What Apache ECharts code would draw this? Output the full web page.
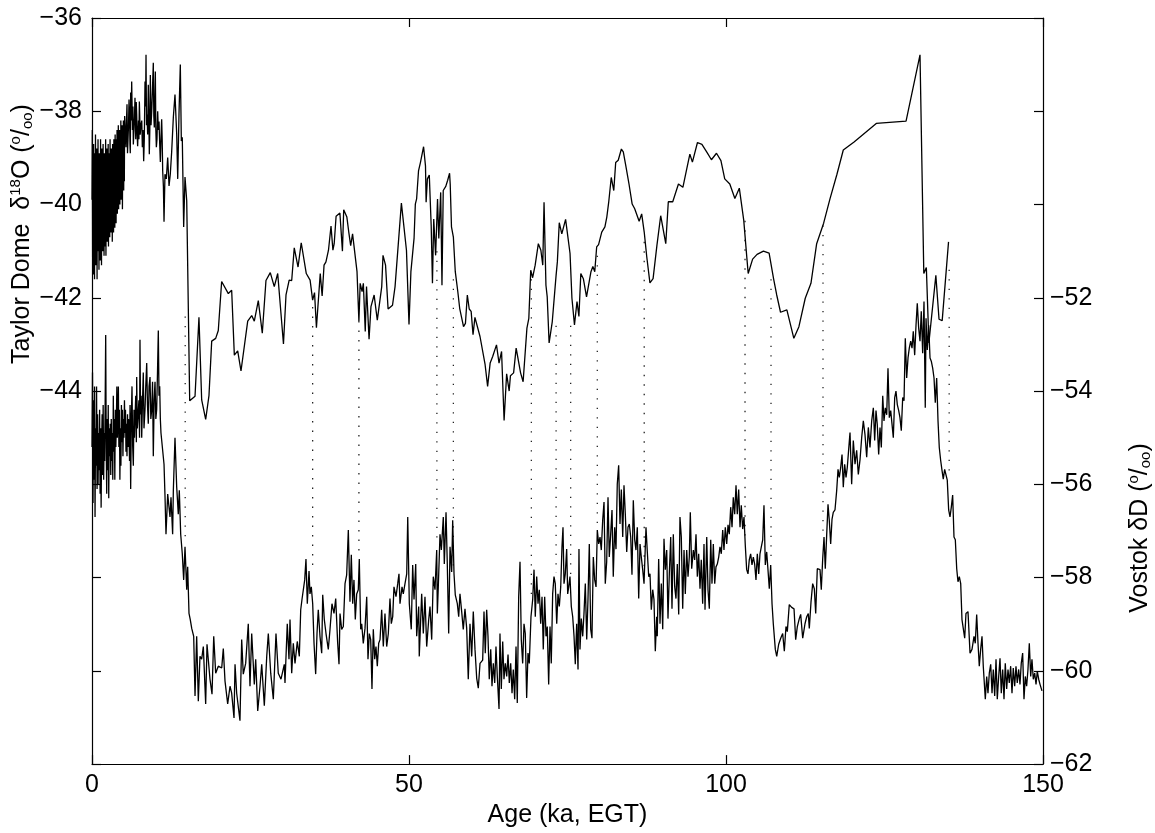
<!DOCTYPE html>
<html><head><meta charset="utf-8">
<script src="https://cdn.jsdelivr.net/npm/echarts@6/dist/echarts.min.js"></script>
<style>html,body{margin:0;padding:0;background:#fff}#c{width:1155px;height:833px}</style>
</head><body><div id="c"></div>
<script>
// ---------- axes ----------
const xRange = [0, 150];
const xTicks = [0, 50, 100, 150];
const leftRange = [-52, -36];    // Taylor Dome d18O
const rightRange = [-62, -46];   // Vostok dD
const leftLabelled = [-44, -36];
const rightLabelled = [-62, -52];

// ---------- Taylor Dome d18O (age ka, permil) ----------
const taylorDome = [
[0.00,-39.9],[0.05,-38.4],[0.10,-41.2],[0.15,-39.0],[0.20,-41.5],[0.25,-38.7],[0.30,-40.6],[0.35,-39.3],[0.40,-41.6],[0.45,-38.9],
[0.50,-40.9],[0.55,-38.5],[0.60,-41.3],[0.65,-39.6],[0.70,-40.2],[0.75,-38.8],[0.80,-41.6],[0.85,-39.1],[0.90,-40.7],[0.95,-38.6],
[1.00,-41.0],[1.05,-39.4],[1.10,-41.4],[1.15,-38.9],[1.20,-40.5],[1.25,-39.0],[1.30,-41.2],[1.35,-38.6],[1.40,-40.8],[1.45,-39.7],
[1.50,-41.3],[1.55,-38.8],[1.60,-40.3],[1.65,-39.2],[1.70,-41.0],[1.75,-38.7],[1.80,-40.6],[1.85,-39.3],[1.90,-41.1],[1.95,-38.9],
[2.00,-40.4],[2.05,-39.1],[2.10,-40.9],[2.15,-38.6],[2.20,-41.1],[2.25,-39.5],[2.30,-40.2],[2.35,-38.8],[2.40,-40.8],[2.45,-39.0],
[2.50,-40.5],[2.55,-38.7],[2.60,-40.9],[2.65,-39.3],[2.70,-40.1],[2.75,-38.9],[2.80,-40.7],[2.85,-38.6],[2.90,-40.4],[2.95,-39.2],
[3.00,-40.6],[3.05,-38.8],[3.10,-40.0],[3.15,-39.4],[3.20,-40.8],[3.25,-38.7],[3.30,-40.3],[3.35,-39.0],[3.40,-40.6],[3.45,-38.6],
[3.50,-40.1],[3.55,-39.1],[3.60,-40.5],[3.65,-38.5],[3.70,-40.0],[3.75,-38.9],[3.80,-40.4],[3.85,-38.6],[3.90,-39.8],[3.95,-38.4],
[4.00,-40.2],[4.05,-38.8],[4.10,-39.7],[4.15,-38.3],[4.20,-40.1],[4.25,-38.7],[4.30,-39.6],[4.35,-38.4],[4.40,-40.0],[4.45,-38.6],
[4.50,-39.5],[4.55,-38.2],[4.60,-39.9],[4.65,-38.5],[4.70,-39.4],[4.75,-38.3],[4.80,-40.1],[4.85,-38.6],[4.90,-39.3],[4.95,-38.2],
[5.00,-39.7],[5.05,-38.4],[5.10,-39.5],[5.15,-38.1],[5.20,-38.1],[5.28,-38.5],[5.36,-38.77],[5.44,-38.2],[5.52,-37.85],[5.60,-38.9],
[5.68,-38.6],[5.76,-38.3],[5.84,-37.75],[5.92,-38.1],[5.99,-38.71],[6.04,-38.9],[6.10,-37.6],[6.18,-38.2],[6.26,-37.36],[6.38,-38.4],
[6.45,-37.9],[6.52,-38.71],[6.62,-38.4],[6.70,-38.1],[6.78,-37.71],[6.90,-38.6],[6.98,-37.8],[7.05,-38.07],[7.12,-38.5],[7.20,-38.75],
[7.33,-38.2],[7.40,-38.6],[7.47,-37.79],[7.60,-38.5],[7.73,-38.28],[7.85,-38.2],[7.94,-38.77],[8.05,-38.4],[8.15,-39.07],[8.25,-38.6],
[8.36,-37.36],[8.45,-37.9],[8.52,-36.79],[8.60,-38.3],[8.68,-38.07],[8.78,-38.5],[8.88,-37.43],[8.96,-38.1],[9.04,-38.92],[9.12,-38.4],
[9.20,-37.22],[9.31,-38.3],[9.42,-38.0],[9.52,-37.6],[9.67,-36.96],[9.75,-38.1],[9.83,-38.35],[9.90,-37.9],[9.99,-37.15],[10.07,-38.4],
[10.15,-38.77],[10.25,-38.6],[10.36,-38.0],[10.46,-38.4],[10.57,-38.22],[10.68,-38.7],[10.78,-39.09],[10.90,-38.5],[10.99,-38.17],[11.07,-38.6],
[11.15,-39.28],[11.26,-39.6],[11.36,-40.37],[11.51,-39.35],[11.72,-39.45],[11.94,-38.99],[12.15,-39.6],[12.35,-39.35],[12.57,-38.86],[12.83,-38.13],
[13.09,-37.64],[13.36,-38.49],[13.52,-39.45],[13.72,-38.07],[13.93,-37.0],[14.09,-38.64],[14.24,-38.56],[14.46,-40.48],[14.67,-39.41],[14.94,-39.92],
[15.14,-39.92],[15.41,-44.21],[16.25,-44.11],[16.87,-42.42],[17.30,-44.19],[17.93,-44.61],[18.45,-44.10],[18.88,-42.93],[19.51,-42.87],[19.92,-42.70],
[20.45,-41.65],[21.50,-41.91],[22.03,-41.84],[22.45,-43.23],[22.98,-43.14],[23.50,-43.57],[24.56,-42.50],[25.19,-42.38],[25.60,-42.50],[26.23,-42.06],
[26.86,-42.76],[27.44,-41.63],[28.12,-41.46],[28.75,-41.76],[29.29,-41.48],[30.2,-42.99],[30.6,-41.94],[31.1,-41.62],[31.5,-41.63],[31.9,-40.93],
[32.5,-41.34],[33.0,-40.82],[33.8,-41.48],[34.4,-41.62],[34.8,-42.05],[35.1,-41.89],[35.4,-42.64],[36.0,-41.48],[36.3,-41.96],[36.6,-41.30],
[36.9,-41.23],[37.3,-40.98],[37.5,-40.98],[37.7,-40.46],[38.0,-40.98],[38.2,-40.84],[38.5,-40.25],[38.8,-40.27],[39.1,-40.18],[39.5,-41.0],
[39.7,-40.11],[40.2,-40.27],[40.5,-40.59],[40.8,-40.88],[41.1,-40.63],[41.4,-40.61],[41.8,-41.44],[42.1,-42.50],[42.3,-41.69],[42.6,-41.87],
[42.8,-41.69],[43.1,-42.72],[43.3,-41.76],[43.7,-42.89],[44.0,-42.19],[44.5,-41.94],[45.0,-42.48],[45.7,-41.76],[45.9,-41.09],[46.3,-41.30],
[46.7,-42.24],[47.4,-42.16],[47.8,-41.76],[48.0,-41.80],[48.8,-39.97],[49.6,-40.98],[50.0,-42.57],[50.3,-41.44],[50.8,-40.72],[51.0,-39.99],
[51.2,-39.88],[51.5,-39.28],[51.8,-39.10],[52.3,-38.76],[52.6,-39.17],[52.7,-39.95],[52.9,-39.45],[53.2,-39.37],[53.5,-40.45],[53.7,-41.69],
[53.9,-40.31],[54.2,-41.09],[54.5,-39.88],[54.7,-40.73],[55.0,-39.74],[55.2,-41.73],[55.4,-39.70],[55.8,-39.61],[56.1,-39.48],[56.4,-39.33],
[56.5,-39.56],[56.7,-40.48],[57.0,-40.70],[57.3,-41.44],[57.7,-41.87],[58.0,-42.23],[58.3,-42.26],[58.6,-42.62],[58.9,-42.55],[59.2,-41.94],
[59.5,-42.24],[59.8,-42.29],[60.1,-42.79],[60.4,-42.42],[60.7,-42.45],[61.2,-42.83],[61.5,-42.80],[62.0,-43.43],[62.4,-43.90],[62.8,-43.40],
[63.2,-43.26],[63.8,-43.01],[64.2,-43.40],[64.6,-43.15],[65.0,-44.63],[65.4,-43.63],[65.8,-44.0],[66.0,-43.67],[66.5,-43.61],[66.9,-43.08],
[67.2,-43.10],[67.6,-43.61],[68.0,-43.80],[68.6,-42.65],[68.9,-42.44],[69.2,-41.41],[69.5,-41.57],[69.9,-41.30],[70.4,-40.84],[70.8,-40.98],
[71.1,-41.30],[71.3,-39.95],[71.6,-41.73],[71.8,-41.98],[72.1,-42.97],[72.6,-42.51],[73.2,-41.52],[73.4,-41.23],[73.7,-40.39],[74.1,-40.63],
[74.7,-40.32],[75.4,-41.05],[75.7,-42.01],[76.1,-42.58],[76.5,-42.08],[76.8,-42.40],[77.1,-41.48],[77.5,-41.59],[78.0,-41.98],[78.7,-41.44],
[79.0,-41.33],[79.3,-41.44],[79.6,-40.91],[79.9,-40.86],[80.4,-40.59],[80.9,-40.48],[81.2,-40.27],[81.5,-39.95],[81.9,-39.42],[82.3,-39.70],
[82.6,-39.10],[83.0,-39.05],[83.5,-38.81],[83.8,-38.87],[84.2,-39.17],[84.7,-39.56],[85.2,-39.99],[85.6,-40.09],[86.3,-40.36],[86.7,-40.20],
[87.1,-40.59],[87.5,-41.12],[88.0,-41.68],[88.5,-41.59],[89.1,-40.88],[89.7,-40.24],[90.5,-40.84],[90.9,-39.94],[91.6,-39.94],[92.5,-39.56],
[93.2,-39.63],[93.8,-39.24],[94.3,-38.92],[94.7,-39.09],[95.5,-38.67],[96.2,-38.71],[97.0,-38.88],[97.7,-39.04],[98.5,-38.90],[99.2,-39.06],
[99.8,-39.45],[100.6,-39.56],[101.4,-39.87],[102.1,-39.65],[102.8,-40.34],[103.3,-41.16],[103.5,-41.48],[104.2,-41.17],[104.9,-41.07],[105.9,-41.00],
[106.8,-41.04],[107.5,-41.59],[108.0,-41.94],[108.6,-42.31],[109.6,-42.26],[110.7,-42.87],[111.5,-42.62],[112.5,-42.01],[113.4,-41.69],[114.3,-40.84],
[115.4,-40.40],[116.4,-39.88],[117.5,-39.35],[118.5,-38.83],[120.2,-38.66],[123.7,-38.26],[128.4,-38.21],[130.6,-36.79],[131.2,-41.48],[131.6,-41.35],
[132.0,-42.97],[133.1,-41.52],[133.6,-42.46],[134.1,-42.49],[135.1,-40.80]
];

// ---------- Vostok dD (age ka, permil, right axis) ----------
const vostok = [
[0.00,-55.2],[0.08,-53.6],[0.16,-56.4],[0.24,-54.2],[0.32,-55.9],[0.40,-53.9],[0.48,-56.7],[0.56,-54.8],[0.64,-55.6],[0.72,-53.9],
[0.80,-56.1],[0.88,-54.5],[0.96,-56.0],[1.04,-54.9],[1.12,-55.7],[1.20,-54.4],[1.28,-56.2],[1.36,-54.8],[1.44,-56.5],[1.52,-55.1],
[1.60,-54.5],[1.68,-55.8],[1.76,-54.3],[1.84,-55.9],[1.92,-54.9],[2.00,-55.5],[2.08,-54.2],[2.16,-52.8],[2.24,-55.1],[2.32,-56.2],
[2.40,-54.6],[2.48,-55.7],[2.56,-54.3],[2.64,-56.3],[2.72,-54.8],[2.80,-55.4],[2.88,-54.7],[2.96,-55.8],[3.04,-54.6],[3.12,-55.5],
[3.20,-54.9],[3.28,-55.9],[3.36,-54.1],[3.44,-55.3],[3.52,-54.6],[3.60,-55.9],[3.68,-54.4],[3.76,-55.2],[3.84,-54.7],[3.92,-53.9],
[4.00,-55.0],[4.08,-54.5],[4.16,-53.9],[4.24,-55.2],[4.32,-54.4],[4.40,-55.9],[4.48,-54.8],[4.56,-55.6],[4.64,-54.3],[4.72,-55.1],
[4.80,-54.4],[4.88,-55.4],[4.96,-54.6],[5.04,-55.0],[5.12,-54.2],[5.20,-54.9],[5.28,-54.4],[5.36,-55.3],[5.44,-54.7],[5.52,-55.4],
[5.60,-54.5],[5.68,-55.2],[5.76,-54.6],[5.84,-54.9],[5.92,-55.5],[6.00,-54.3],[6.10,-56.1],[6.20,-54.6],[6.31,-53.9],[6.42,-55.2],
[6.52,-55.6],[6.62,-54.4],[6.70,-55.0],[6.78,-54.6],[6.90,-54.1],[7.00,-55.1],[7.05,-53.7],[7.15,-54.8],[7.30,-54.8],[7.40,-54.2],
[7.50,-55.0],[7.57,-52.9],[7.66,-54.5],[7.75,-54.1],[7.84,-55.0],[7.95,-54.3],[8.09,-53.6],[8.20,-54.8],[8.36,-54.4],[8.48,-53.9],
[8.63,-53.4],[8.75,-54.3],[8.88,-54.7],[9.00,-53.9],[9.15,-53.7],[9.28,-54.6],[9.42,-54.4],[9.55,-53.8],[9.67,-55.4],[9.80,-54.2],
[9.94,-53.8],[10.07,-54.6],[10.2,-54.4],[10.33,-53.6],[10.46,-52.7],[10.57,-54.1],[10.68,-53.9],[10.78,-54.6],[10.88,-54.9],[10.99,-54.93],
[11.36,-55.57],
[11.51,-56.23],[11.67,-57.07],[11.94,-56.21],[12.3,-56.7],[12.46,-56.28],[12.72,-57.07],[12.83,-56.13],[13.09,-55.0],[13.36,-56.06],[13.61,-56.64],
[13.77,-56.13],[13.99,-57.07],[14.24,-57.49],[14.46,-58.05],[14.67,-57.34],[14.94,-58.26],[15.09,-57.77],[15.3,-58.77],[15.5,-58.9],[15.73,-59.09],
[16.04,-59.26],[16.25,-60.54],[16.51,-59.26],[16.77,-60.65],[17.03,-59.69],[17.3,-59.75],[17.56,-59.48],[17.93,-60.71],[18.14,-59.43],[18.35,-59.41],
[18.61,-60.18],[18.93,-60.5],[19.2,-59.26],[19.51,-60.05],[19.92,-59.9],[20.46,-59.94],[20.71,-59.52],[20.98,-60.22],[21.4,-60.71],[21.77,-60.33],
[22.03,-60.48],[22.4,-61.01],[22.56,-59.86],[22.82,-60.48],[23.34,-61.07],[23.61,-59.33],[23.86,-60.07],[24.24,-59.84],[24.65,-58.99],[24.92,-60.33],
[25.19,-59.2],[25.6,-60.29],[25.82,-59.75],[26.14,-60.86],[26.5,-60.33],[26.77,-59.86],[27.18,-60.75],[27.56,-59.69],[27.81,-59.2],[28.19,-60.05],
[28.6,-60.61],[29.02,-59.2],[29.38,-60.05],[29.81,-60.18],[30.33,-59.86],[30.44,-60.26],[30.8,-58.99],[31.07,-59.75],[31.23,-58.9],[31.5,-60.05],
[31.75,-59.41],[32.02,-59.84],[32.38,-59.37],[32.7,-59.69],[32.92,-58.69],[33.12,-58.47],[33.33,-58.45],[33.55,-58.05],[33.75,-57.6],[33.96,-58.56],
[34.23,-57.86],[34.38,-58.35],[34.59,-58.2],[34.81,-58.56],[35.02,-59.41],[35.28,-60.07],[35.49,-59.2],[35.69,-58.69],[35.96,-59.26],[36.23,-59.62],
[36.39,-58.37],[36.64,-58.9],[36.91,-59.2],[37.27,-59.54],[37.54,-59.11],[37.85,-58.56],[38.17,-58.77],[38.44,-58.45],[38.75,-59.41],[38.96,-59.86],
[39.12,-58.77],[39.38,-59.11],[39.64,-59.05],[39.91,-58.13],[40.17,-57.94],[40.43,-56.98],[40.69,-58.52],[40.9,-57.51],[41.12,-58.56],[41.32,-58.05],
[41.53,-58.9],[41.75,-58.35],[42.0,-58.26],[42.16,-57.6],[42.38,-59.11],[42.54,-58.99],[42.79,-59.41],[43.06,-59.09],[43.33,-58.41],[43.53,-59.75],
[43.74,-59.2],[43.96,-59.33],[44.16,-60.39],[44.37,-59.11],[44.59,-59.75],[44.79,-59.48],[45.0,-59.9],[45.22,-59.41],[45.43,-59.33],[45.69,-58.69],
[45.95,-59.48],[46.21,-58.77],[46.48,-59.48],[46.74,-59.2],[47.0,-58.45],[47.21,-58.99],[47.43,-58.84],[47.63,-58.2],[47.95,-58.41],[48.22,-58.13],
[48.42,-57.92],[48.58,-58.56],[48.9,-58.2],[49.1,-58.35],[49.37,-58.13],[49.64,-57.92],[49.8,-56.7],[50.05,-58.56],[50.36,-59.11],[50.58,-57.73],
[50.79,-58.47],[51.06,-57.71],[51.21,-59.26],[51.53,-58.62],[51.62,-59.69],[52.0,-58.35],[52.26,-59.2],[52.52,-58.41],[52.79,-59.48],[53.11,-58.9],
[53.31,-58.62],[53.58,-59.33],[53.83,-57.98],[54.1,-58.26],[54.37,-57.41],[54.47,-58.77],[54.62,-58.2],[54.89,-57.07],[55.1,-57.41],[55.41,-56.7],
[55.57,-57.71],[55.84,-56.6],[56.04,-57.71],[56.26,-59.2],[56.47,-57.34],[56.73,-57.88],[56.89,-56.77],[57.1,-57.92],[57.3,-58.37],[57.62,-58.56],
[57.84,-58.84],[58.04,-58.35],[58.31,-58.73],[58.56,-59.11],[58.83,-58.67],[59.1,-59.09],[59.35,-60.18],[59.62,-58.99],[59.89,-59.69],[60.14,-58.73],
[60.41,-59.54],[60.68,-60.16],[60.93,-60.37],[61.2,-59.84],[61.62,-59.77],[61.83,-58.73],[62.03,-59.62],[62.25,-58.69],[62.46,-59.26],[62.66,-60.18],
[62.89,-59.54],[63.09,-60.33],[63.3,-59.84],[63.52,-60.26],[63.72,-59.48],[63.93,-60.12],[64.2,-60.82],[64.35,-59.2],[64.56,-60.39],[64.78,-59.37],
[64.98,-60.18],[65.19,-59.84],[65.41,-60.12],[65.62,-59.65],[65.82,-60.26],[66.04,-59.84],[66.25,-60.48],[66.45,-59.97],[66.67,-60.61],[66.88,-59.48],
[67.08,-60.69],[67.3,-58.41],[67.51,-57.66],[67.71,-59.33],[67.93,-59.84],[68.14,-58.99],[68.34,-59.2],[68.56,-60.58],[68.77,-59.62],[68.97,-59.84],
[69.24,-58.84],[69.51,-58.47],[69.72,-57.83],[69.92,-58.84],[70.14,-57.98],[70.35,-58.56],[70.55,-58.26],[70.77,-58.99],[70.98,-58.41],[71.18,-59.54],
[71.4,-58.41],[71.61,-59.26],[71.81,-59.05],[72.03,-60.29],[72.24,-59.05],[72.44,-59.84],[72.66,-58.35],[72.87,-57.98],[73.07,-58.13],[73.3,-58.99],
[73.5,-58.35],[73.71,-58.62],[73.93,-58.2],[74.13,-57.34],[74.29,-56.92],[74.45,-58.13],[74.65,-57.92],[74.87,-57.39],[75.03,-58.35],[75.19,-58.2],
[75.39,-57.98],[75.6,-58.62],[75.82,-58.84],[76.03,-59.26],[76.23,-59.86],[76.45,-58.99],[76.66,-59.97],[76.81,-57.39],[76.97,-59.54],[77.18,-58.88],
[77.4,-59.26],[77.6,-58.77],[77.81,-58.13],[78.03,-59.33],[78.23,-58.47],[78.44,-57.28],[78.66,-59.11],[78.86,-59.3],[79.07,-57.56],[79.29,-58.05],
[79.5,-58.2],[79.7,-56.98],[79.92,-57.28],[80.13,-57.13],[80.33,-57.41],[80.55,-56.77],[80.76,-56.38],[80.96,-58.13],[81.18,-57.66],[81.39,-56.28],
[81.59,-57.56],[81.81,-57.07],[82.02,-56.55],[82.22,-57.98],[82.44,-56.92],[82.65,-57.39],[82.85,-56.0],[83.07,-55.59],[83.28,-56.85],[83.49,-56.11],
[83.71,-57.13],[83.91,-56.02],[84.12,-56.64],[84.34,-57.45],[84.54,-56.92],[84.75,-56.85],[84.97,-57.13],[85.17,-57.94],[85.38,-56.34],[85.6,-57.19],
[85.8,-57.41],[86.01,-56.92],[86.23,-58.45],[86.44,-57.28],[86.64,-57.56],[86.86,-57.83],[87.07,-58.13],[87.27,-58.13],[87.38,-56.92],[87.59,-57.45],
[87.81,-57.98],[88.01,-57.92],[88.22,-58.69],[88.44,-58.26],[88.64,-58.47],[88.85,-59.58],[89.07,-58.84],[89.16,-59.26],[89.38,-57.6],[89.59,-58.99],
[89.8,-58.13],[90.02,-59.11],[90.22,-57.17],[90.43,-57.83],[90.65,-57.41],[90.85,-58.88],[91.06,-57.92],[91.28,-57.13],[91.48,-58.67],[91.69,-57.07],
[91.91,-58.2],[92.11,-58.45],[92.32,-57.71],[92.54,-58.79],[92.74,-56.7],[92.95,-57.13],[93.17,-58.67],[93.38,-57.41],[93.58,-58.35],[93.8,-57.41],
[94.01,-57.98],[94.21,-57.56],[94.37,-56.6],[94.59,-57.81],[94.85,-57.41],[95.06,-57.62],[95.27,-57.07],[95.48,-57.98],[95.69,-57.49],[95.9,-58.24],
[96.1,-57.62],[96.32,-58.56],[96.53,-57.28],[96.69,-58.69],[96.96,-57.13],[97.16,-58.26],[97.37,-58.67],[97.59,-57.19],[97.79,-58.13],[98.0,-57.28],
[98.22,-58.13],[98.42,-57.77],[98.63,-57.71],[98.85,-57.56],[99.05,-57.34],[99.26,-57.49],[99.48,-56.98],[99.68,-57.41],[99.89,-56.92],[100.11,-57.28],
[100.32,-56.87],[100.52,-57.07],[100.74,-56.49],[100.95,-56.92],[101.15,-56.28],[101.37,-56.64],[101.58,-56.02],[101.78,-56.64],[102.0,-56.11],[102.21,-56.92],
[102.41,-56.45],[102.63,-56.96],[102.84,-56.7],[103.04,-57.3],[103.26,-57.83],[103.47,-57.92],[103.67,-57.62],[103.89,-57.49],[104.1,-57.73],[104.31,-57.56],
[104.52,-57.71],[104.73,-58.05],[104.94,-57.49],[105.16,-57.92],[105.36,-57.49],[105.57,-57.34],[105.79,-57.19],[105.99,-56.45],[106.2,-57.73],[106.42,-57.45],
[106.62,-57.83],[106.83,-58.24],[107.05,-57.73],[107.26,-58.56],[107.46,-58.99],[107.78,-59.54],[108.0,-59.69],[108.31,-59.43],[108.63,-59.3],[108.94,-59.2],
[109.2,-59.58],[109.46,-59.05],[109.67,-59.16],[109.98,-58.58],[110.36,-58.64],[110.73,-58.67],[110.99,-59.33],[111.25,-59.05],[111.56,-58.88],[111.78,-58.79],
[112.1,-59.3],[112.46,-58.99],[112.73,-58.84],[112.98,-58.77],[113.14,-59.09],[113.41,-58.52],[113.67,-58.13],[113.93,-58.24],[114.15,-58.77],[114.4,-57.81],
[114.67,-57.77],[114.83,-57.83],[115.03,-58.26],[115.25,-57.6],[115.46,-57.13],[115.66,-57.81],[115.88,-57.09],[116.09,-56.43],[116.29,-56.77],[116.51,-57.28],
[116.72,-56.75],[116.92,-56.6],[117.19,-56.55],[117.46,-56.13],[117.67,-55.68],[117.87,-55.85],[118.09,-55.64],[118.3,-55.36],[118.5,-56.06],[118.72,-55.57],
[118.93,-55.85],[119.13,-55.64],[119.35,-55.25],[119.56,-54.89],[119.82,-56.0],[120.08,-55.06],[120.35,-55.57],[120.61,-55.27],[120.87,-55.79],[121.14,-55.47],
[121.4,-55.0],[121.66,-54.64],[121.92,-54.93],[122.19,-55.42],[122.45,-54.78],[122.71,-55.21],[122.98,-54.64],[123.24,-54.36],[123.45,-55.06],[123.66,-54.42],
[123.86,-54.72],[124.08,-55.36],[124.29,-54.78],[124.5,-55.21],[124.72,-54.1],[124.92,-54.64],[125.13,-54.36],[125.35,-54.51],[125.55,-53.51],[125.76,-54.57],
[125.98,-54.42],[126.18,-54.4],[126.39,-55.0],[126.61,-54.14],[126.81,-54.0],[127.02,-54.29],[127.24,-54.42],[127.44,-54.57],[127.65,-54.85],[127.87,-54.14],
[128.08,-54.21],[128.28,-52.87],[128.5,-53.72],[128.71,-53.29],[128.91,-53.08],[129.13,-52.93],[129.34,-53.08],[129.54,-52.72],[129.76,-53.23],[129.97,-52.59],
[130.17,-52.12],[130.39,-52.65],[130.6,-52.93],[130.8,-52.29],[131.02,-53.19],[131.23,-52.08],[131.43,-54.36],[131.55,-52.44],[131.75,-53.12],[131.97,-52.59],
[132.18,-53.29],[132.38,-53.36],[132.6,-53.51],[132.81,-53.72],[133.01,-54.25],[133.23,-53.72],[133.44,-54.64],[133.64,-55.21],[133.86,-55.49],[134.07,-55.7],
[134.27,-55.89],[134.49,-55.68],[134.7,-55.7],[134.9,-55.91],[135.12,-56.55],[135.33,-56.7],[135.54,-56.49],[135.75,-56.23],[135.96,-57.13],[136.17,-57.19],
[136.39,-57.81],[136.59,-58.09],[136.8,-57.98],[137.02,-58.13],[137.22,-58.9],[137.43,-58.9],[137.65,-59.3],[137.85,-58.77],[138.17,-58.73],[138.49,-59.62],
[138.8,-59.54],[139.12,-59.26],[139.32,-59.41],[139.54,-58.79],[139.75,-59.41],[139.95,-59.9],[140.17,-59.54],[140.38,-59.26],[140.58,-59.9],[140.9,-60.61],
[141.12,-60.12],[141.32,-60.48],[141.53,-60.05],[141.75,-59.86],[141.96,-60.48],[142.16,-59.97],[142.38,-60.54],[142.59,-59.75],[142.79,-60.61],[143.01,-60.12],
[143.22,-59.73],[143.42,-60.48],[143.64,-59.97],[143.85,-60.61],[144.05,-59.84],[144.27,-60.39],[144.48,-59.97],[144.68,-60.26],[144.9,-59.9],[145.11,-60.48],
[145.31,-59.94],[145.53,-60.33],[145.74,-59.9],[145.94,-60.26],[146.16,-59.97],[146.37,-60.29],[146.57,-59.84],[146.79,-59.62],[147.0,-60.61],[147.21,-60.12],
[147.42,-60.33],[147.63,-59.97],[147.84,-59.41],[148.06,-60.12],[148.26,-59.75],[148.47,-60.18],[148.69,-60.05],[148.9,-60.29],[149.1,-60.01],[149.32,-60.18],
[149.53,-60.29],[149.84,-60.43]
];

// ---------- tie points (dotted connectors) ----------
const tieAges    = [14.7, 34.8, 42.1, 54.4, 57.0, 69.3, 73.2, 75.5, 79.7, 87.1, 103.0, 107.1, 115.3, 135.2];
const tieTaylor  = [-42.4, -42.2, -42.5, -41.0, -41.6, -41.6, -42.6, -42.6, -41.1, -40.8, -40.35, -41.6, -40.45, -41.4];
const tieVostok  = [-57.2, -57.9, -57.5, -57.3, -57.9, -58.5, -57.9, -58.1, -57.0, -57.8, -57.1, -57.7, -57.1, -55.8];

const FONT = '"Liberation Sans", Arial, Helvetica, sans-serif';
const FS = 25;
const minus = v => String(v).replace('-', '\u2212');

// map a right-axis value onto the left axis scale (both share the same plot height)
const toLeft = v => leftRange[0] + (v - rightRange[0]) * (leftRange[1] - leftRange[0]) / (rightRange[1] - rightRange[0]);

const series = [];
tieAges.forEach((a, i) => {
  series.push({
    type: 'line', xAxisIndex: 0, yAxisIndex: 0, silent: true, symbol: 'none', z: 1,
    data: [[a, tieTaylor[i]], [a, toLeft(tieVostok[i])]],
    lineStyle: { color: '#222', width: 1.3, type: [1.3, 8.2] }
  });
});
series.push({
  name: 'Taylor Dome', type: 'line', xAxisIndex: 0, yAxisIndex: 0, data: taylorDome,
  symbol: 'none', z: 3, lineStyle: { color: '#000', width: 1.3 }
});
series.push({
  name: 'Vostok', type: 'line', xAxisIndex: 0, yAxisIndex: 1, data: vostok,
  symbol: 'none', z: 3, lineStyle: { color: '#000', width: 1.3 }
});

const axisLine = { show: true, onZero: false, lineStyle: { color: '#000', width: 1.2 } };
const tick = { show: true, inside: true, length: 9, lineStyle: { color: '#000', width: 1.2 } };
const lbl = { color: '#000', fontFamily: FONT, fontSize: FS };

const richTitle = {
  n: { fontFamily: FONT, fontSize: FS, lineHeight: 32, verticalAlign: 'middle' },
  sup: { fontFamily: FONT, fontSize: 15, lineHeight: 32, verticalAlign: 'top', padding: [2, 0, 0, 0] },
  sub: { fontFamily: FONT, fontSize: 15, lineHeight: 32, verticalAlign: 'bottom', padding: [0, 0, 3, 0] }
};

const chart = echarts.init(document.getElementById('c'), null, { renderer: 'canvas' });
chart.setOption({
  animation: false,
  backgroundColor: '#fff',
  grid: { left: 92, right: 112, top: 18, bottom: 65, containLabel: false },
  xAxis: [
    { type: 'value', position: 'bottom', min: xRange[0], max: xRange[1], interval: 50,
      axisLine, axisTick: tick, splitLine: { show: false },
      axisLabel: Object.assign({ margin: 9, formatter: v => xTicks.includes(v) ? String(v) : '' }, lbl),
      name: 'Age (ka, EGT)', nameLocation: 'middle', nameGap: 36,
      nameTextStyle: { color: '#000', fontFamily: FONT, fontSize: FS } },
    { type: 'value', position: 'top', min: xRange[0], max: xRange[1], interval: 50,
      axisLine, axisTick: tick, splitLine: { show: false }, axisLabel: { show: false } }
  ],
  yAxis: [
    { type: 'value', position: 'left', min: leftRange[0], max: leftRange[1], interval: 2,
      axisLine, axisTick: tick, splitLine: { show: false },
      axisLabel: Object.assign({ margin: 10,
        formatter: v => (v >= leftLabelled[0] && v <= leftLabelled[1]) ? minus(v) : '' }, lbl) },
    { type: 'value', position: 'right', min: rightRange[0], max: rightRange[1], interval: 2,
      axisLine, axisTick: tick, splitLine: { show: false },
      axisLabel: Object.assign({ margin: 7,
        formatter: v => (v >= rightLabelled[0] && v <= rightLabelled[1]) ? minus(v) : '' }, lbl) }
  ],
  graphic: [
    { type: 'text', x: 22, y: 234, rotation: Math.PI / 2,
      style: { text: '{n|Taylor Dome  δ}{sup|18}{n|O (}{sup|o}{n|/}{sub|oo}{n|)}',
        textAlign: 'center', textVerticalAlign: 'middle', fill: '#000', rich: richTitle } },
    { type: 'text', x: 1140, y: 528, rotation: Math.PI / 2,
      style: { text: '{n|Vostok δD (}{sup|o}{n|/}{sub|oo}{n|)}',
        textAlign: 'center', textVerticalAlign: 'middle', fill: '#000', rich: richTitle } }
  ],
  series
});
</script></body></html>
